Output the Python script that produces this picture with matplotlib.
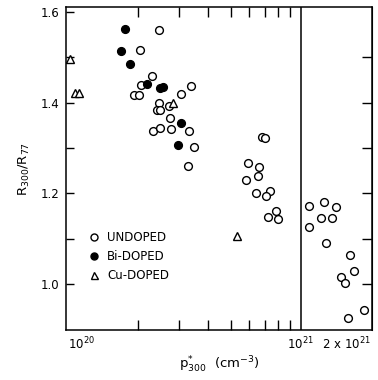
import numpy as np
import matplotlib
matplotlib.use("Agg")
import matplotlib.pyplot as plt
import matplotlib.transforms as mtransforms

# ---- data (p in cm^-3, R = R300/R77) ----
undoped_p = [2.47e20, 2.04e20, 2.30e20, 2.06e20, 1.93e20, 2.02e20, 2.46e20, 2.43e20, 2.50e20,
             2.73e20, 3.07e20, 3.39e20, 2.76e20, 2.32e20, 2.48e20, 2.78e20, 3.32e20, 3.50e20,
             3.28e20, 6.80e20, 7.05e20, 5.92e20, 6.61e20, 6.57e20, 5.83e20, 6.45e20, 7.35e20,
             7.11e20, 7.83e20, 7.26e20, 7.95e20, 1.089e21, 1.263e21, 1.411e21, 1.218e21,
             1.367e21, 1.088e21, 1.284e21, 1.631e21, 1.690e21, 1.494e21, 1.551e21, 1.591e21,
             1.869e21]
undoped_r = [1.560, 1.516, 1.458, 1.439, 1.417, 1.416, 1.399, 1.383, 1.383,
             1.393, 1.418, 1.437, 1.365, 1.338, 1.344, 1.342, 1.337, 1.303,
             1.261, 1.325, 1.323, 1.266, 1.257, 1.239, 1.229, 1.200, 1.206,
             1.195, 1.162, 1.148, 1.144, 1.173, 1.180, 1.170, 1.145,
             1.145, 1.126, 1.091, 1.065, 1.029, 1.016, 1.002, 0.926,
             0.942]

bi_p = [1.77e20, 1.70e20, 1.86e20, 2.20e20, 2.49e20, 2.56e20, 3.06e20, 2.97e20]
bi_r = [1.563, 1.514, 1.485, 1.442, 1.432, 1.434, 1.354, 1.307]

cu_p = [1.023e20, 1.078e20, 1.121e20, 2.84e20, 5.32e20]
cu_r = [1.497, 1.421, 1.421, 1.400, 1.106]

series_labels = ["UNDOPED", "Bi-DOPED", "Cu-DOPED"]
x_tick_vals = [1e20, 1e21, 2e21]
x_tick_labels = [r"$\mathregular{10^{20}}$", r"$\mathregular{10^{21}}$", r"$\mathregular{2\ x\ 10^{21}}$"]
x_minor_vals = [2e20, 3e20, 4e20, 5e20, 6e20, 7e20, 8e20, 9e20]
y_major_vals = [1.0, 1.2, 1.4, 1.6]
y_minor_vals = [1.1, 1.3, 1.5]
y_right_vals = [1.0, 1.1, 1.2, 1.3, 1.4, 1.5]

plt.rcParams['font.family'] = ['DejaVu Sans']
fig = plt.figure(figsize=(3.78, 3.80), dpi=100)
ax = fig.add_axes([66/378, 1-330/380, 306/378, 323/380])

ms = 5.6
mew = 1.0
h1, = ax.plot(undoped_p, undoped_r, 'o', ms=ms, mfc='white', mec='black', mew=mew, ls='none')
h2, = ax.plot(bi_p, bi_r, 'o', ms=ms, mfc='black', mec='black', mew=mew, ls='none')
h3, = ax.plot(cu_p, cu_r, '^', ms=ms, mfc='white', mec='black', mew=mew, ls='none')

ax.axvline(1e21, color='black', lw=1.1)

ax.set_xscale('log')
ax.set_xlim(0.985e20, 2.02e21)
ax.set_ylim(0.8986, 1.6108)

ax.set_xticks(x_tick_vals)
ax.set_xticklabels(x_tick_labels)
ax.set_xticks(x_minor_vals, minor=True)
ax.xaxis.set_minor_formatter(matplotlib.ticker.NullFormatter())
xl = ax.get_xticklabels()
xl[0].set_ha('left')
xl[2].set_ha('right')
xl[2].set_transform(xl[2].get_transform() +
                    mtransforms.ScaledTranslation(4/100, 0, fig.dpi_scale_trans))

ax.set_yticks(y_major_vals)
ax.set_yticklabels([f"{v:.1f}" for v in y_major_vals])
ax.set_yticks(y_minor_vals, minor=True)

ax.tick_params(axis='x', which='major', length=0, pad=4, labelsize=8.5)
ax.tick_params(axis='x', which='minor', direction='in', length=7, width=1.0, top=True, bottom=True)
ax.tick_params(axis='y', which='both', direction='in', length=6, width=1.0, labelsize=8.5, pad=5)

sec = ax.secondary_yaxis('right')
sec.set_yticks(y_right_vals)
sec.tick_params(direction='in', length=7, width=1.0, labelright=False)

for s in ax.spines.values():
    s.set_linewidth(1.1)

ax.set_ylabel(r"$\mathregular{R_{300}/R_{77}}$", fontsize=9.5, labelpad=6)
ax.set_xlabel(r"$\mathregular{p^{*}_{300}}$  (cm$\mathregular{^{-3}}$)", fontsize=9.5, labelpad=2)

ax.legend([h1, h2, h3], series_labels, loc='center left', bbox_to_anchor=(0.045, 0.227),
          frameon=False, handlelength=1.0, handletextpad=0.6, labelspacing=0.5,
          fontsize=8.5, borderpad=0.2, markerscale=0.9)

fig.savefig("out.png", dpi=100)
